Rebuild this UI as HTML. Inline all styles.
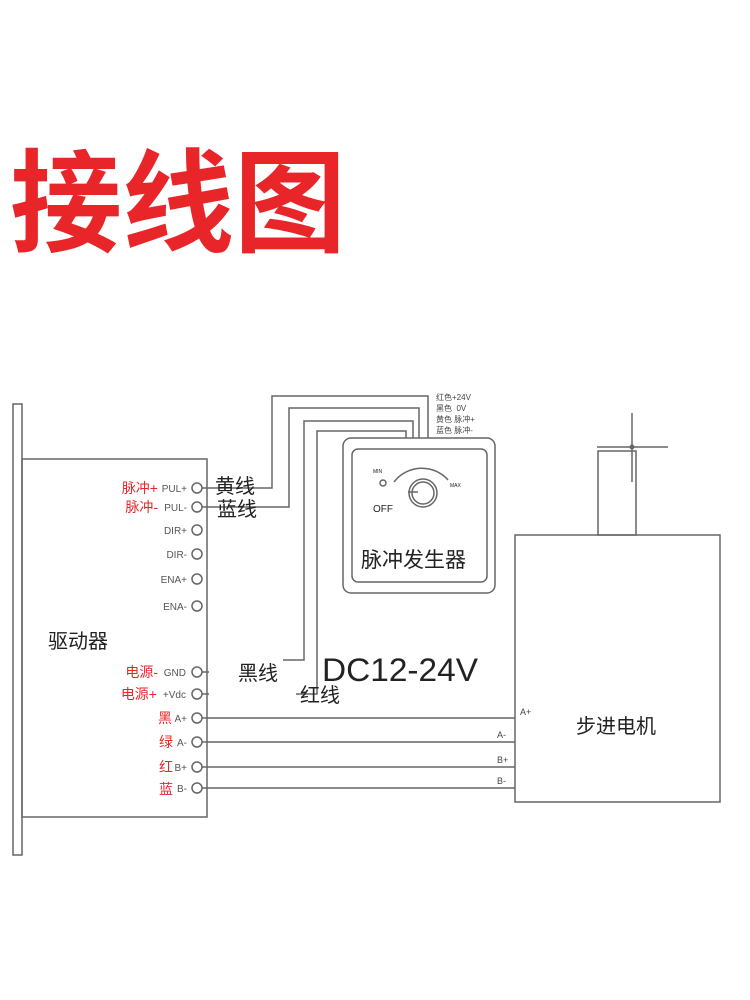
<!DOCTYPE html>
<html><head><meta charset="utf-8"><style>
html,body{margin:0;padding:0;background:#fff;width:750px;height:1000px;overflow:hidden}
svg text{font-family:"Liberation Sans","Noto Sans CJK SC",sans-serif}
</style></head><body>
<svg width="750" height="1000" viewBox="0 0 750 1000" xmlns="http://www.w3.org/2000/svg">
<text x="10" y="243" font-size="112" font-weight="bold" fill="#e8262a" style="font-family:'Noto Sans CJK SC',sans-serif">接线图</text>
<g fill="none" stroke="#666" stroke-width="1.5">
<rect x="13" y="404" width="9" height="451"/>
<rect x="22" y="459" width="185" height="358"/>
<g fill="#fff">
<circle cx="197" cy="488" r="5"/><circle cx="197" cy="507" r="5"/><circle cx="197" cy="530" r="5"/><circle cx="197" cy="554" r="5"/><circle cx="197" cy="579" r="5"/><circle cx="197" cy="606" r="5"/><circle cx="197" cy="672" r="5"/><circle cx="197" cy="694" r="5"/><circle cx="197" cy="718" r="5"/><circle cx="197" cy="742" r="5"/><circle cx="197" cy="767" r="5"/><circle cx="197" cy="788" r="5"/>
</g>
<polyline points="202,488 272,488 272,396 428,396 428,439"/>
<polyline points="202,507 289,507 289,408 419,408 419,439"/>
<polyline points="283,660 304,660 304,421 413,421 413,439"/>
<polyline points="296,694 317,694 317,431 406,431 406,439"/>
<line x1="202" y1="672" x2="209" y2="672"/><line x1="202" y1="694" x2="209" y2="694"/>
<line x1="202" y1="718" x2="515" y2="718"/>
<line x1="202" y1="742" x2="515" y2="742"/>
<line x1="202" y1="767" x2="515" y2="767"/>
<line x1="202" y1="788" x2="515" y2="788"/>
<rect x="343" y="438" width="152" height="155" rx="8" fill="#fff"/>
<rect x="352" y="449" width="135" height="133" rx="6"/>
<circle cx="423" cy="493" r="14"/><circle cx="423" cy="493" r="11"/>
<path d="M394,482 A35,35 0 0 1 448,480" />
<line x1="408" y1="492" x2="418" y2="492"/>
<circle cx="383" cy="483" r="3"/>
<rect x="515" y="535" width="205" height="267"/>
<rect x="598" y="451" width="38" height="84"/>
<line x1="632" y1="413" x2="632" y2="482"/>
<line x1="597" y1="447" x2="668" y2="447"/>
</g>
<circle cx="632" cy="447" r="2.5" fill="#666"/>
<g font-size="10" fill="#555" text-anchor="end">
<text x="187" y="492">PUL+</text><text x="187" y="511">PUL-</text><text x="187" y="534">DIR+</text><text x="187" y="558">DIR-</text><text x="187" y="583">ENA+</text><text x="187" y="610">ENA-</text><text x="186" y="676">GND</text><text x="186" y="698">+Vdc</text><text x="187" y="722">A+</text><text x="187" y="746">A-</text><text x="187" y="771">B+</text><text x="187" y="792">B-</text>
</g>
<g font-size="14" fill="#e8262a" text-anchor="end">
<text x="158" y="493">脉冲+</text><text x="158" y="512">脉冲-</text><text x="158" y="677">电源-</text><text x="157" y="699">电源+</text><text x="172" y="723">黑</text><text x="173" y="747">绿</text><text x="173" y="772">红</text><text x="173" y="794">蓝</text>
</g>
<g fill="#222">
<text x="215" y="493" font-size="20">黄线</text>
<text x="217" y="516" font-size="20">蓝线</text>
<text x="48" y="648" font-size="20">驱动器</text>
<text x="238" y="680" font-size="20">黑线</text>
<text x="300" y="702" font-size="20">红线</text>
<text x="322" y="681" font-size="32" textLength="156" lengthAdjust="spacingAndGlyphs">DC12-24V</text>
<text x="576" y="733" font-size="20">步进电机</text>
<text x="361" y="567" font-size="21">脉冲发生器</text>
<text x="373" y="512" font-size="10">OFF</text>
<text x="373" y="473" font-size="5">MIN</text>
<text x="450" y="487" font-size="5">MAX</text>
<g font-size="8" fill="#444">
<text x="436" y="400">红色+24V</text><text x="436" y="411">黑色 &#160;0V</text><text x="436" y="422">黄色 脉冲+</text><text x="436" y="433">蓝色 脉冲-</text>
</g>
<g font-size="9" fill="#444">
<text x="520" y="715">A+</text><text x="497" y="738">A-</text><text x="497" y="763">B+</text><text x="497" y="784">B-</text>
</g>
</g>
</svg>
</body></html>
